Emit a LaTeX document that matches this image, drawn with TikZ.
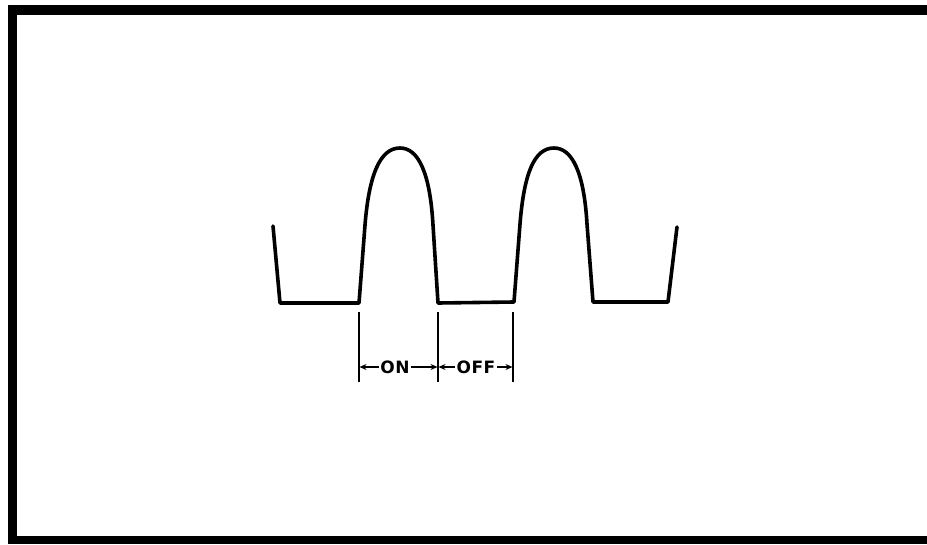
\documentclass[tikz,border=0pt]{standalone}
\usepackage{fontspec}
\newfontfamily\lblfont[LetterSpace=3]{DejaVu Sans Bold}
\usetikzlibrary{arrows.meta}
\begin{document}
\begin{tikzpicture}[x=1pt,y=-1pt,
  framebar/.style={fill=black,draw=none},
  wave/.style={line width=3.6pt,line join=round,line cap=round},
  tick/.style={line width=1.8pt},
  dim/.style={line width=1.5pt,-{Stealth[length=7pt,width=6pt]}},
  lbl/.style={inner sep=1.5pt,font=\lblfont\fontsize{17}{18}\selectfont}]
\useasboundingbox (0,0) rectangle (927,544);
% frame (right side cut off)
\fill[framebar] (8,5) rectangle (17,544);
\fill[framebar] (8,5) rectangle (927,15);
\fill[framebar] (8,536) rectangle (927,544);
% waveform
\draw[wave] (273,226) -- (280,303) -- (359,303)
  -- (365,225) .. controls (369,175) and (380,148) .. (400,148)
  .. controls (418,148) and (430,172) .. (433,225) -- (438,303)
  -- (514,302)
  -- (520,224) .. controls (524,174) and (534,148) .. (554,148)
  .. controls (572,148) and (584,172) .. (587,224) -- (593,302)
  -- (668,302) -- (677,227);
% dimension ticks
\coordinate (t1a) at (359,312); \coordinate (t1b) at (359,382);
\coordinate (t2a) at (438,312); \coordinate (t2b) at (438,382);
\coordinate (t3a) at (513,312); \coordinate (t3b) at (513,382);
\draw[tick] (t1a) -- (t1b);
\draw[tick] (t2a) -- (t2b);
\draw[tick] (t3a) -- (t3b);
\coordinate (a1) at (359.5,367);
\coordinate (a2) at (437.5,367);
\coordinate (a3) at (438.5,367);
\coordinate (a4) at (512.5,367);
\node[lbl] (on) at (395,367) {ON};
\node[lbl] (off) at (476,367) {OFF};
\draw[dim] (on.west) -- (a1);
\draw[dim] (on.east) -- (a2);
\draw[dim] (off.west) -- (a3);
\draw[dim] (off.east) -- (a4);
\end{tikzpicture}
\end{document}
